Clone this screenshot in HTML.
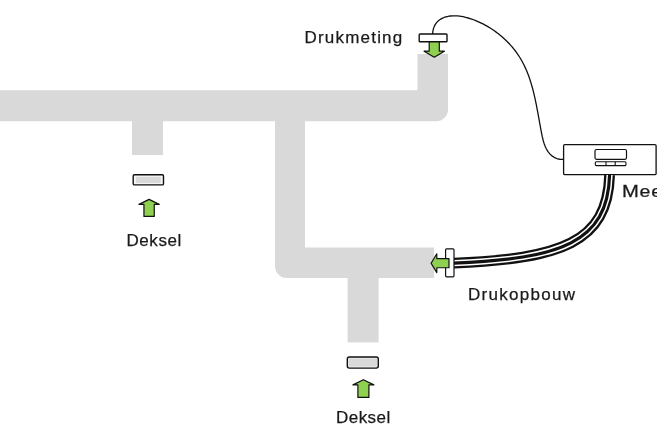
<!DOCTYPE html>
<html><head><meta charset="utf-8">
<style>
html,body{margin:0;padding:0;background:#fff;}
body{width:657px;height:438px;overflow:hidden;position:relative;}
svg{position:absolute;left:0;top:0;}

text{font-family:"Liberation Sans",sans-serif;font-size:17px;fill:#1a1a1a;stroke:#1a1a1a;stroke-width:0.25px;}
</style></head>
<body>
<svg width="657" height="438" viewBox="0 0 657 438">
<!-- pipes -->
<g fill="#d9d9d9">
<path d="M0 90.3 H417.5 V54 H448 V109.3 A12 12 0 0 1 436 121.3 H0 Z"/>
<rect x="132" y="121" width="31" height="34"/>
<path d="M275 121 H305 V247.5 H434 V278 H287 A12 12 0 0 1 275 266 Z"/>
<rect x="347.6" y="277" width="31" height="65.4"/>
</g>
<!-- deksel boxes -->
<rect x="133.2" y="174.8" width="30.3" height="10.1" rx="1.2" fill="#f4f4f4" stroke="#111" stroke-width="1.4"/>
<rect x="135.8" y="176.9" width="25" height="6" fill="#d9d9d9"/>
<rect x="347.3" y="357" width="31" height="11.1" rx="2" fill="#ececec" stroke="#111" stroke-width="1.4"/>
<rect x="348.6" y="358.5" width="28.3" height="8" fill="#d9d9d9"/>
<!-- up arrows -->
<path d="M149.10 199.35 L159.20 204.40 H154.25 V216.40 H143.95 V204.40 H139.00 Z" fill="#8fd050" stroke="#111" stroke-width="1.2" stroke-linejoin="round"/>
<path d="M363.40 379.70 L373.85 384.90 H368.90 V397.40 H357.90 V384.90 H352.95 Z" fill="#8fd050" stroke="#111" stroke-width="1.2" stroke-linejoin="round"/>
<!-- drukmeting -->
<path d="M434.25 57.20 L444.40 51.20 H439.30 V40.00 H429.20 V51.20 H424.10 Z" fill="#8fd050" stroke="#111" stroke-width="1.2" stroke-linejoin="round"/>
<rect x="419.2" y="34" width="27.8" height="7.8" rx="0.8" fill="#fff" stroke="#111" stroke-width="1.4"/>
<path d="M432.59 34.04 L432.79 31.82 L433.16 29.76 L433.70 27.88 L434.39 26.15 L435.22 24.58 L436.18 23.16 L437.26 21.89 L438.46 20.75 L439.75 19.75 L441.14 18.87 L442.60 18.12 L444.14 17.49 L445.73 16.96 L447.38 16.54 L449.06 16.23 L450.77 16.00 L452.50 15.87 L454.24 15.82 L455.99 15.86 L457.74 15.96 L459.49 16.14 L461.25 16.39 L463.01 16.71 L464.76 17.08 L466.51 17.51 L468.25 18.00 L469.99 18.53 L471.72 19.11 L473.44 19.74 L475.14 20.40 L476.84 21.09 L478.51 21.82 L480.18 22.58 L481.82 23.38 L483.45 24.20 L485.07 25.06 L486.66 25.94 L488.24 26.86 L489.80 27.80 L491.33 28.78 L492.85 29.78 L494.35 30.80 L495.83 31.86 L497.28 32.94 L498.71 34.05 L500.12 35.18 L501.51 36.33 L502.87 37.51 L504.20 38.72 L505.52 39.95 L506.80 41.19 L508.06 42.46 L509.29 43.76 L510.49 45.07 L511.67 46.40 L512.81 47.75 L513.93 49.12 L515.02 50.51 L516.07 51.92 L517.10 53.34 L518.09 54.79 L519.05 56.24 L519.97 57.72 L520.87 59.20 L521.73 60.71 L522.57 62.22 L523.37 63.75 L524.15 65.30 L524.89 66.86 L525.62 68.43 L526.31 70.02 L526.98 71.62 L527.63 73.23 L528.25 74.85 L528.85 76.48 L529.43 78.13 L529.99 79.78 L530.53 81.45 L531.05 83.13 L531.55 84.82 L532.04 86.51 L532.51 88.22 L532.96 89.94 L533.40 91.66 L533.83 93.40 L534.24 95.14 L534.64 96.89 L535.03 98.64 L535.41 100.41 L535.78 102.18 L536.15 103.95 L536.50 105.74 L536.85 107.53 L537.19 109.32 L537.53 111.12 L537.87 112.93 L538.20 114.74 L538.53 116.55 L538.86 118.37 L539.18 120.19 L539.51 122.01 L539.84 123.84 L540.17 125.67 L540.51 127.50 L540.85 129.34 L541.19 131.17 L541.54 133.01 L541.91 134.84 L542.29 136.65 L542.71 138.45 L543.15 140.22 L543.64 141.96 L544.18 143.66 L544.78 145.32 L545.43 146.92 L546.16 148.47 L546.96 149.95 L547.85 151.36 L548.82 152.69 L549.90 153.93 L551.07 155.09 L552.35 156.14 L553.74 157.07 L555.24 157.86 L556.84 158.51 L558.56 159.00 L560.38 159.31 L562.33 159.43 L564.38 159.34" fill="none" stroke="#111" stroke-width="1.3" stroke-linejoin="round"/>
<!-- meter -->
<rect x="563.6" y="144.6" width="92.5" height="30" rx="1.2" fill="#fff" stroke="#111" stroke-width="1.3"/>
<rect x="595" y="149.5" width="31.5" height="9.8" rx="1.5" fill="#fff" stroke="#111" stroke-width="1.2"/>
<rect x="595.3" y="161.7" width="30.7" height="3.9" rx="1" fill="#fff" stroke="#111" stroke-width="1.1"/>
<path d="M606 161.7 V165.6 M615.2 161.7 V165.6" stroke="#111" stroke-width="1.1"/>
<!-- thick cable -->
<path d="M454 263.2 C560.4 258.6 607.6 243 609.6 175" fill="none" stroke="#111" stroke-width="10.8"/>
<path d="M454 263.2 C560.4 258.6 607.6 243 609.6 175" fill="none" stroke="#fff" stroke-width="6.2"/>
<path d="M454 263.2 C560.4 258.6 607.6 243 609.6 175" fill="none" stroke="#111" stroke-width="3.2"/>
<!-- drukopbouw connector + arrow -->
<rect x="445.6" y="248.8" width="8.4" height="28" rx="1" fill="#fff" stroke="#111" stroke-width="1.2"/>
<path d="M431.10 263.20 L436.80 253.80 V258.65 H449.00 V267.75 H436.80 V272.60 Z" fill="#8fd050" stroke="#111" stroke-width="1.2" stroke-linejoin="round"/>
<!-- labels -->
<g style="filter:grayscale(1)">
<text x="304.5" y="43" letter-spacing="1.2">Drukmeting</text>
<text x="126.5" y="245.5" letter-spacing="0.55">Deksel</text>
<text x="336" y="422.5" letter-spacing="0.45">Deksel</text>
<text x="468" y="300.4" letter-spacing="1.3">Drukopbouw</text>
<text transform="translate(621.9 196.8) scale(1.19 1)">M</text><text transform="translate(639.5 196.8) scale(1.15 1)">e</text><text transform="translate(651.2 196.8) scale(1.15 1)">e</text>
</g>
</svg>
</body></html>
